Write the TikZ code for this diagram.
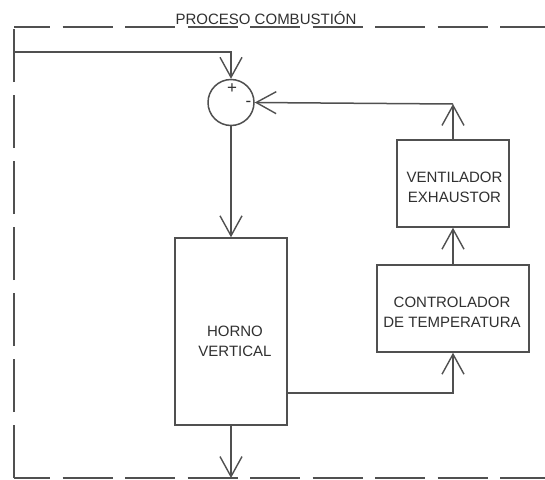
\documentclass[tikz,border=0pt]{standalone}
\usepackage{fontspec}
\setmainfont{Liberation Sans}
\usetikzlibrary{arrows.meta}
\definecolor{linec}{HTML}{505050}
\definecolor{textc}{HTML}{303030}
\begin{document}
\begin{tikzpicture}[x=1pt,y=-1pt,
  ln/.style={draw=linec,line width=1.5pt},
  arr/.style={ln,-{Straight Barb[length=20pt,width=22pt,line width=1.4pt]}},
  blk/.style={draw=linec,line width=1.5pt,rectangle,inner sep=0pt},
  lbl/.style={text=textc,font=\fontsize{15}{20}\selectfont,align=center,inner sep=0pt},
  sgn/.style={text=textc,font=\fontsize{17}{17}\selectfont,inner sep=0pt},
  brd/.style={draw=linec,line width=1.5pt,dash pattern=on 50pt off 12.5pt,dash phase=14pt},
  brdv/.style={draw=linec,line width=1.5pt,dash pattern=on 53pt off 13pt}]
\useasboundingbox[fill=white] (0,0) rectangle (545,479);

% dashed process boundary
\coordinate (tl) at (14,27);
\coordinate (tr) at (545,27);
\coordinate (bl) at (14,478);
\coordinate (br) at (545,478);
\draw[brd] (tl) -- (tr);
\draw[brd] (bl) -- (br);
\draw[brdv] (bl) -- (tl);
\node[lbl,anchor=base] (title) at (266,24) {PROCESO COMBUSTIÓN};

% blocks
\node[draw=linec,line width=1.5pt,circle,minimum size=46pt,inner sep=0pt] (sum) at (231,102.5) {};
\node[sgn] (plus) at (232,88.5) {+};
\node[sgn] (minus) at (248.5,103.5) {-};

\node[blk,minimum width=112pt,minimum height=187pt] (horno) at (231,331.5) {};
\node[lbl] (hornot) at (235,341) {HORNO\\VERTICAL};

\node[blk,minimum width=112pt,minimum height=87pt] (vent) at (453,183.5) {};
\node[lbl] (ventt) at (454.5,187.5) {VENTILADOR\\EXHAUSTOR};

\node[blk,minimum width=152pt,minimum height=87pt] (ctrl) at (453,308.5) {};
\node[lbl] (ctrlt) at (452,312) {CONTROLADOR\\DE TEMPERATURA};

% connectors
\coordinate (in) at (14,52);
\draw[arr] (in) -| (sum.north);
\draw[arr] (sum.south) -- (horno.north);
\path (horno.south east) ++(0,-33) coordinate (hout);
\draw[arr] (hout) -| (ctrl.south);
\draw[arr] (ctrl.north) -- (vent.south);
\coordinate (fb) at (453,104);
\draw[arr] (vent.north) -- (fb);
\draw[arr] (fb) -- (sum.east);
\coordinate (out) at (231,478);
\draw[arr] (horno.south) -- (out);
\end{tikzpicture}
\end{document}
